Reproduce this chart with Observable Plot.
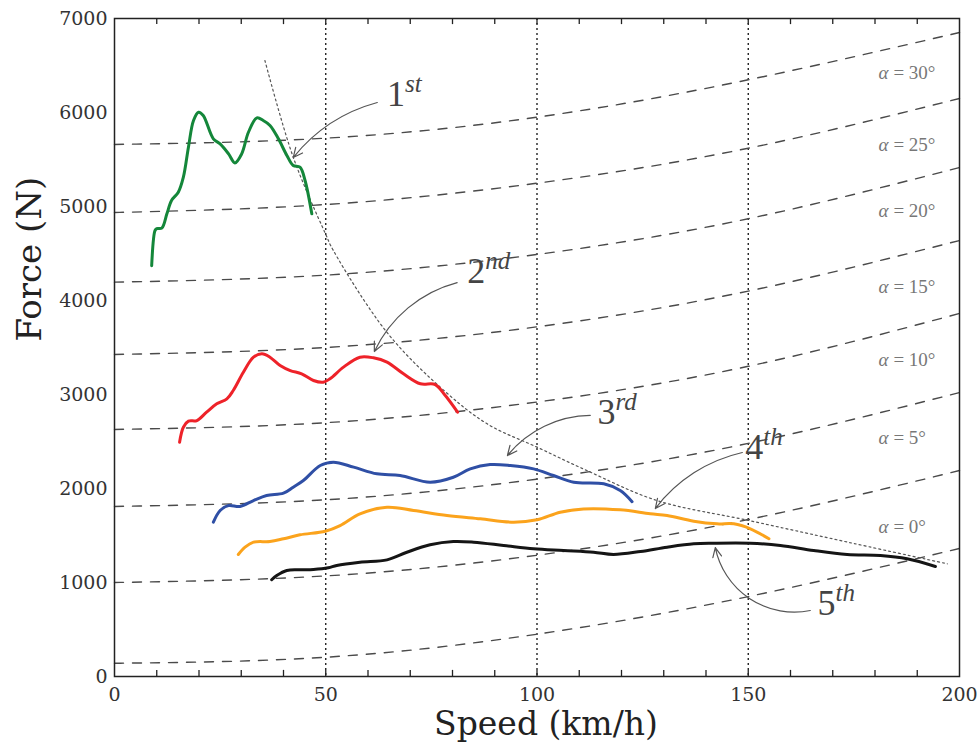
<!DOCTYPE html>
<html><head><meta charset="utf-8">
<script src="https://cdn.jsdelivr.net/npm/d3@7"></script>
<script src="https://cdn.jsdelivr.net/npm/@observablehq/plot@0.6"></script>
<style>body{margin:0;background:#fff}</style>
</head><body><div id="chart"></div>
<script>
// ---- data ----
const speedTicks = [0, 50, 100, 150, 200];
const forceTicks = [0, 1000, 2000, 3000, 4000, 5000, 6000, 7000];
const minorSpeedTicks = [10,20,30,40,50,60,70,80,90,100,110,120,130,140,150,160,170,180,190];
const gridSpeeds = [50, 100, 150];

// road-load curves (force at speeds 0,50,100,150,200) for slope angles
const slopeSpeeds = [0, 50, 100, 150, 200];
const slope0  = [141, 205, 450, 850, 1362];
const slope5  = [1000, 1070, 1290, 1670, 2191];
const slope10 = [1809, 1880, 2100, 2480, 3021];
const slope15 = [2628, 2700, 2920, 3300, 3862];
const slope20 = [3426, 3500, 3720, 4100, 4638];
const slope25 = [4195, 4270, 4490, 4870, 5415];
const slope30 = [4936, 5021, 5248, 5620, 6149];
const slope35 = [5660, 5727, 5950, 6348, 6851];

const labelAngles = [0, 5, 10, 15, 20, 25, 30];
const labelForces = [1590, 2535, 3365, 4145, 4957, 5660, 6426];
const labelSpeed = 180.8;

// traction envelope
const envelope = [[35.6,6553],[42.3,5524],[49.9,4713],[51.8,4532],[64.5,3660],[77.1,3078],[88.2,2688],[100,2440],[111.8,2191],[128.4,1872],[150.1,1660],[175,1415],[197.1,1199]];

// gear traction curves [speed, force]
const gear1 = [[8.8,4370],[9.6,4745],[10,4765],[11.2,4770],[12.4,4922],[13.5,5064],[15.1,5152],[16.3,5312],[17.5,5631],[18.7,5915],[19.9,6003],[21.0,5968],[23.4,5720],[25.0,5666],[27.0,5560],[28.5,5464],[30.1,5560],[31.7,5790],[33.7,5943],[35.2,5915],[36.8,5862],[38.8,5720],[40.8,5543],[42.3,5436],[43.9,5418],[45.1,5277],[46.7,4922]];
const gear2 = [[15.4,2493],[16.3,2652],[17.5,2716],[19.5,2723],[21.8,2812],[24.2,2901],[26.6,2954],[28.1,3043],[30.5,3237],[32.9,3397],[34.9,3433],[36.8,3397],[39.2,3309],[41.6,3255],[44.3,3220],[47.1,3149],[49.4,3131],[51.0,3167],[54.2,3291],[58.1,3397],[61.3,3390],[64.5,3344],[68.4,3220],[72.4,3114],[75.9,3106],[78.3,2989],[81.2,2812]];
const gear3 = [[23.4,1642],[25.0,1766],[27.0,1819],[29.7,1809],[32.9,1872],[36.0,1926],[40.0,1950],[42.3,2014],[44.7,2085],[48.7,2245],[51.8,2280],[56.6,2227],[62.1,2156],[67.6,2138],[74.7,2067],[80.2,2120],[84.2,2209],[88.9,2255],[93.7,2245],[99.2,2209],[103.9,2138],[108.7,2067],[115.8,2050],[119.7,1979],[122.5,1860]];
const gear4 = [[29.3,1298],[30.9,1376],[32.9,1429],[36.8,1436],[40.0,1465],[43.9,1507],[49.9,1546],[53.4,1606],[58.1,1731],[64.5,1801],[70.8,1766],[78.7,1713],[86.6,1678],[94.5,1642],[100,1667],[105.5,1748],[111.0,1783],[119.7,1773],[126.8,1731],[130.8,1713],[137.1,1652],[142.6,1624],[146.6,1624],[150.5,1571],[154.9,1465]];
const gear5 = [[37.2,1029],[38.4,1074],[40.8,1128],[43.9,1135],[47.1,1138],[50.6,1156],[52.6,1181],[58.1,1216],[64.5,1241],[69.2,1322],[74.7,1401],[80.2,1436],[85.0,1429],[92.1,1394],[99.2,1358],[106.3,1340],[113.4,1322],[118.1,1298],[124.5,1330],[130.8,1376],[137.1,1412],[141.8,1418],[150.5,1418],[157.6,1394],[165.5,1340],[173.4,1298],[181.3,1287],[187.6,1252],[194.3,1170]];

// gear annotations
const gearNames = ["1", "2", "3", "4", "5"];
const gearSups = ["st", "nd", "rd", "th", "th"];
const gearLabelAt = [[64.5,6064],[83.5,4181],[114.3,2691],[149.3,2319],[166.4,649]];
const arrowFrom = [[62.2,6106],[81.1,4191],[112.6,2777],[148.6,2383],[164.7,702]];
const arrowTo = [[42.3,5521],[61.5,3457],[93.0,2351],[128.0,1787],[142.2,1372]];

// ---- build tables ----
const slopeSeries = [slope0, slope5, slope10, slope15, slope20, slope25, slope30, slope35];
const slopeRows = slopeSeries.flatMap((arr, i) => arr.map((f, j) => ({angle: i * 5, speed: slopeSpeeds[j], force: f})));
const gears = [gear1, gear2, gear3, gear4, gear5];
const gearColors = ["#14873a", "#ee2229", "#2f4fa5", "#fba31c", "#151515"];
const gearRows = gears.flatMap((g, i) => g.map(([s, f]) => ({gear: i, speed: s, force: f})));
const alphaRows = labelAngles.map((a, i) => ({speed: labelSpeed, force: labelForces[i], text: "= " + a + "°"}));
const annRows = gearNames.map((n, i) => ({name: n, sup: gearSups[i], speed: gearLabelAt[i][0], force: gearLabelAt[i][1]}));
const arrowBends = [-18, -25, -25, -20, 45];

const serif = "DejaVu Serif";
const mathFont = "Liberation Serif";
const yMin = forceTicks[0], yMax = forceTicks[forceTicks.length - 1];
const tickLen = 65; // ≈ 6 px in force units

const chart = Plot.plot({
  width: 978, height: 751,
  marginLeft: 114, marginRight: 19, marginTop: 18, marginBottom: 75,
  style: {fontFamily: serif, background: "#fff"},
  x: {domain: [0, 200]},
  y: {domain: [yMin, yMax]},
  marks: [
    Plot.ruleX(gridSpeeds, {stroke: "#111", strokeDasharray: "2,3", strokeWidth: 1.3}),
    Plot.line(slopeRows, {x: "speed", y: "force", z: "angle", curve: "natural", stroke: "#4a4a4a", strokeWidth: 1.4, strokeDasharray: "9,9"}),
    Plot.line(envelope, {x: d => d[0], y: d => d[1], curve: "catmull-rom", stroke: "#555", strokeWidth: 1.2, strokeDasharray: "2,3"}),
    Plot.line(gearRows, {x: "speed", y: "force", z: "gear", stroke: d => gearColors[d.gear], curve: "catmull-rom", strokeWidth: 3}),
    ...arrowFrom.map((p, i) => Plot.arrow([i], {
      x1: () => arrowFrom[i][0], y1: () => arrowFrom[i][1],
      x2: () => arrowTo[i][0], y2: () => arrowTo[i][1],
      bend: arrowBends[i], stroke: "#555", strokeWidth: 1.2, headLength: 13, headAngle: 50
    })),
    Plot.text(annRows, {x: "speed", y: "force", text: "name", textAnchor: "start", lineAnchor: "bottom", fontFamily: mathFont, fontSize: 36, fill: "#444"}),
    Plot.text(annRows, {x: "speed", y: "force", text: "sup", textAnchor: "start", lineAnchor: "bottom", dx: 18, dy: -14, fontFamily: mathFont, fontStyle: "italic", fontSize: 25, fill: "#444"}),
    Plot.text(alphaRows, {x: "speed", y: "force", text: () => "α", textAnchor: "start", lineAnchor: "middle", fontFamily: mathFont, fontStyle: "italic", fontSize: 19, fill: "#777"}),
    Plot.text(alphaRows, {x: "speed", y: "force", text: "text", textAnchor: "start", lineAnchor: "middle", dx: 15, fontFamily: mathFont, fontSize: 19, fill: "#777"}),
    // inward minor ticks on bottom and top edges
    Plot.ruleX(minorSpeedTicks, {x: d => d, y1: yMin, y2: yMin + tickLen, stroke: "#222", strokeWidth: 1.3}),
    Plot.ruleX(minorSpeedTicks, {x: d => d, y1: yMax - tickLen, y2: yMax, stroke: "#222", strokeWidth: 1.3}),
    Plot.axisX({ticks: speedTicks, tickSize: 0, tickPadding: 11, fontSize: 19, fill: "#333", label: null, tickFormat: d3.format("d")}),
    Plot.axisY({ticks: forceTicks, tickSize: 0, tickPadding: 7, fontSize: 19, fill: "#333", label: null, tickFormat: d3.format("d")}),
    Plot.frame({stroke: "#222", strokeWidth: 1.5}),
    Plot.text(["Force (N)"], {frameAnchor: "left", dx: -84, dy: -6, rotate: -90, fontSize: 34, fill: "#222", fontFamily: serif}),
    Plot.text(["Speed (km/h)"], {frameAnchor: "bottom", dx: 9, dy: 58, fontSize: 33, fill: "#222", fontFamily: serif})
  ]
});
document.getElementById("chart").appendChild(chart);
</script>
</body></html>
